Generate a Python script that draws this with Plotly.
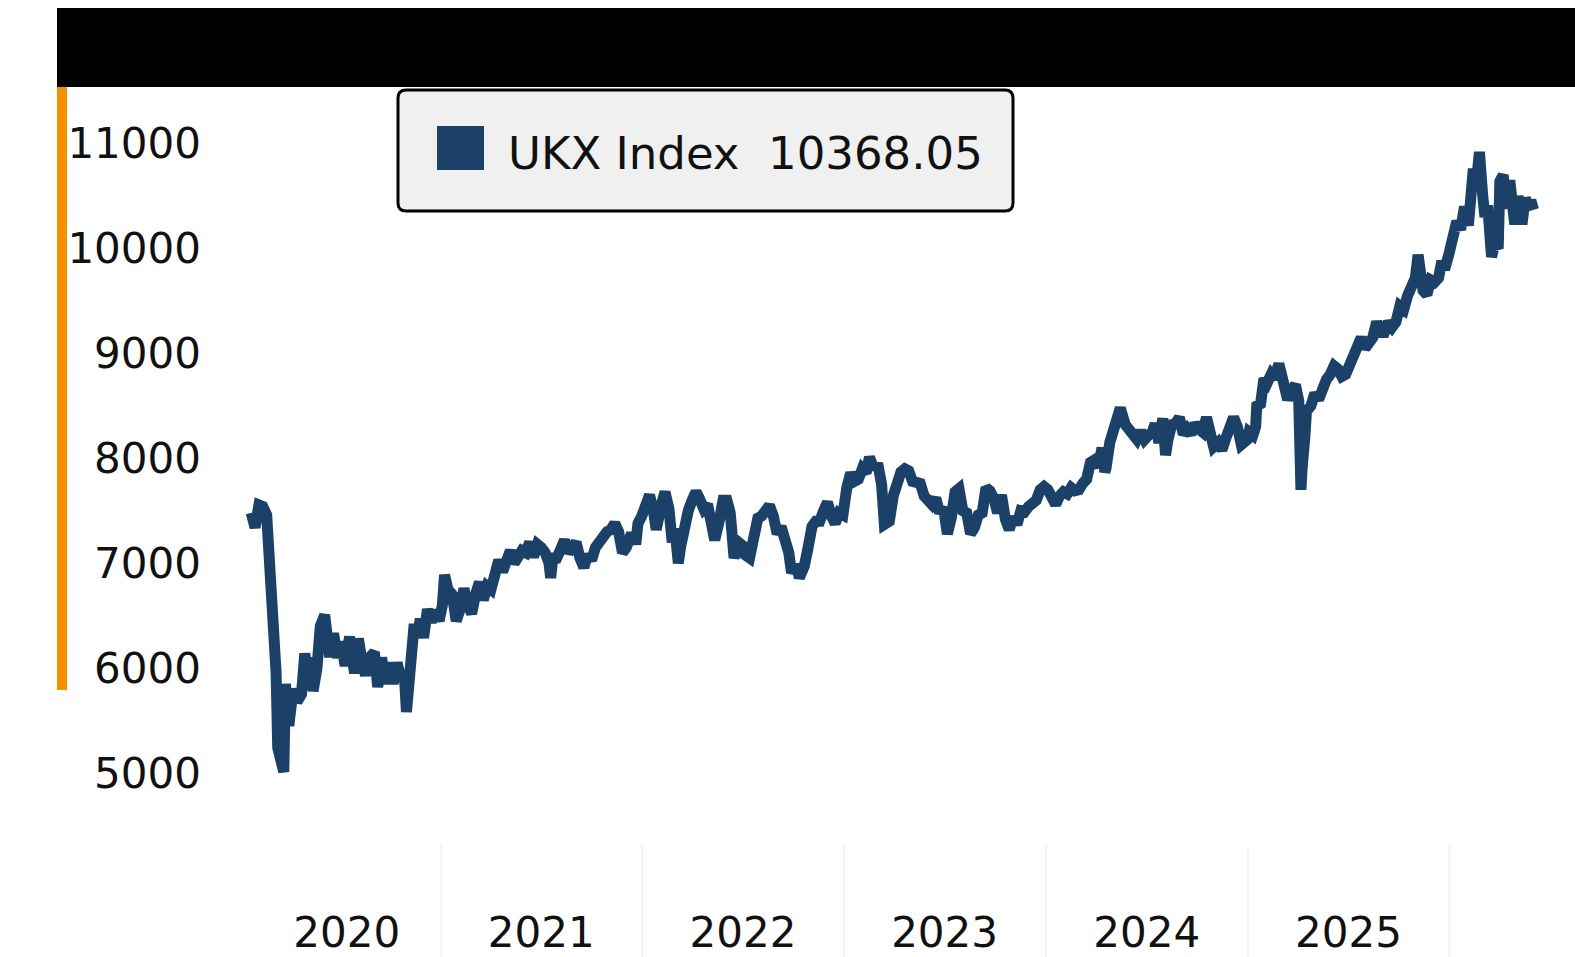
import pandas as pd
import plotly.graph_objects as go

# ---------------- data ----------------
dates_2020 = ["2020-01-24","2020-01-31","2020-02-07","2020-02-14","2020-02-21","2020-02-28","2020-03-05","2020-03-09",
              "2020-03-12","2020-03-16","2020-03-23","2020-03-26","2020-04-01","2020-04-09","2020-04-16","2020-04-24",
              "2020-04-30","2020-05-05","2020-05-11","2020-05-15","2020-05-22","2020-05-28","2020-06-05","2020-06-14",
              "2020-06-21","2020-06-28","2020-07-05","2020-07-12","2020-07-20","2020-07-29","2020-08-05","2020-08-12",
              "2020-08-18","2020-08-25","2020-09-03","2020-09-09","2020-09-16","2020-09-23","2020-09-30","2020-10-07",
              "2020-10-14","2020-10-21","2020-10-27","2020-10-31","2020-11-05","2020-11-09","2020-11-14","2020-11-20",
              "2020-11-25","2020-12-01","2020-12-08","2020-12-15","2020-12-22","2020-12-29"]
close_2020 = [7480,7340,7555,7540,7460,6850,6450,5960,
              5240,5150,5010,5850,5450,5800,5680,5750,
              6140,5900,6100,5780,6000,6400,6506,6106,
              6330,6100,6250,6020,6300,5950,6280,6050,
              5930,6100,6150,5820,6100,5850,6050,5850,
              6050,5900,5950,5582,5900,6300,6420,6300,
              6470,6290,6560,6440,6550,6450]

dates_2021 = ["2021-01-04","2021-01-08","2021-01-14","2021-01-22","2021-01-29","2021-02-05","2021-02-12","2021-02-19",
              "2021-02-26","2021-03-05","2021-03-12","2021-03-19","2021-03-26","2021-04-02","2021-04-09","2021-04-16",
              "2021-04-23","2021-04-30","2021-05-07","2021-05-14","2021-05-21","2021-05-28","2021-06-04","2021-06-11",
              "2021-06-18","2021-06-25","2021-07-02","2021-07-09","2021-07-16","2021-07-19","2021-07-23","2021-07-30",
              "2021-08-06","2021-08-13","2021-08-20","2021-08-27","2021-09-03","2021-09-10","2021-09-17","2021-09-24",
              "2021-10-01","2021-10-08","2021-10-15","2021-10-22","2021-10-29","2021-11-05","2021-11-12","2021-11-19",
              "2021-11-26","2021-12-03","2021-12-10","2021-12-17","2021-12-20","2021-12-24","2021-12-31"]
close_2021 = [6600,6888,6750,6700,6450,6560,6760,6600,
              6520,6700,6820,6650,6780,6750,6950,7030,
              6920,7000,7120,7000,7050,7120,7100,7200,
              7060,7180,7150,7100,7000,6860,7050,7050,
              7130,7220,7100,7180,7200,7050,6960,7080,
              7030,7150,7220,7250,7300,7320,7380,7300,
              7100,7150,7250,7250,7180,7380,7450]

dates_2022 = ["2022-01-07","2022-01-14","2022-01-21","2022-01-26","2022-02-04","2022-02-11","2022-02-18","2022-02-24",
              "2022-03-01","2022-03-07","2022-03-11","2022-03-18","2022-03-25","2022-04-01","2022-04-08","2022-04-14",
              "2022-04-22","2022-04-29","2022-05-06","2022-05-12","2022-05-20","2022-05-27","2022-06-03","2022-06-09",
              "2022-06-16","2022-06-24","2022-07-01","2022-07-06","2022-07-14","2022-07-22","2022-07-29","2022-08-05",
              "2022-08-12","2022-08-19","2022-08-26","2022-09-02","2022-09-09","2022-09-16","2022-09-23","2022-09-28",
              "2022-10-07","2022-10-12","2022-10-21","2022-10-28","2022-11-04","2022-11-11","2022-11-18","2022-11-25",
              "2022-12-02","2022-12-09","2022-12-16","2022-12-23","2022-12-30"]
close_2022 = [7550,7650,7500,7320,7550,7680,7520,7200,
              7330,7000,7150,7400,7500,7600,7680,7620,
              7520,7560,7380,7220,7400,7600,7600,7480,
              7050,7200,7170,7080,7050,7280,7430,7450,
              7500,7550,7450,7280,7350,7240,7100,6910,
              6990,6860,6970,7150,7350,7400,7400,7500,
              7580,7450,7380,7480,7460]

dates_2023 = ["2023-01-06","2023-01-13","2023-01-20","2023-01-27","2023-02-03","2023-02-10","2023-02-16","2023-02-24",
              "2023-03-03","2023-03-10","2023-03-15","2023-03-17","2023-03-24","2023-03-31","2023-04-06","2023-04-14",
              "2023-04-21","2023-04-28","2023-05-05","2023-05-12","2023-05-19","2023-05-26","2023-06-02","2023-06-09",
              "2023-06-16","2023-06-23","2023-06-30","2023-07-07","2023-07-14","2023-07-21","2023-07-28","2023-08-04",
              "2023-08-11","2023-08-18","2023-08-25","2023-09-01","2023-09-08","2023-09-15","2023-09-22","2023-09-29",
              "2023-10-06","2023-10-13","2023-10-20","2023-10-27","2023-11-03","2023-11-10","2023-11-17","2023-11-24",
              "2023-12-01","2023-12-08","2023-12-15","2023-12-22","2023-12-29"]
close_2023 = [7720,7860,7780,7800,7900,7860,8010,7900,
              7950,7750,7370,7380,7400,7640,7750,7870,
              7900,7880,7780,7760,7760,7640,7600,7560,
              7620,7480,7530,7280,7430,7680,7710,7500,
              7480,7280,7340,7460,7480,7720,7690,7620,
              7480,7650,7420,7320,7440,7370,7500,7490,
              7540,7560,7600,7700,7730]

dates_2024 = ["2024-01-05","2024-01-12","2024-01-19","2024-01-26","2024-02-02","2024-02-09","2024-02-16","2024-02-23",
              "2024-03-01","2024-03-08","2024-03-15","2024-03-22","2024-03-28","2024-04-05","2024-04-12","2024-04-17",
              "2024-04-19","2024-04-26","2024-05-03","2024-05-10","2024-05-15","2024-05-24","2024-05-31","2024-06-07",
              "2024-06-14","2024-06-21","2024-06-28","2024-07-05","2024-07-12","2024-07-17","2024-07-24","2024-07-31",
              "2024-08-05","2024-08-09","2024-08-16","2024-08-23","2024-08-30","2024-09-06","2024-09-13","2024-09-20",
              "2024-09-27","2024-10-04","2024-10-11","2024-10-18","2024-10-24","2024-10-31","2024-11-08","2024-11-15",
              "2024-11-22","2024-11-29","2024-12-06","2024-12-13","2024-12-20","2024-12-31"]
close_2024 = [7700,7620,7560,7640,7680,7660,7720,7690,
              7700,7760,7800,7960,7980,7920,8100,7870,
              7900,8150,8280,8430,8480,8320,8280,8250,
              8180,8260,8180,8220,8250,8330,8150,8380,
              8030,8170,8320,8330,8390,8230,8280,8230,
              8330,8280,8250,8390,8250,8110,8150,8080,
              8190,8290,8390,8300,8130,8180]

dates_2025 = ["2025-01-03","2025-01-10","2025-01-15","2025-01-17","2025-01-24","2025-01-30","2025-02-05","2025-02-12",
              "2025-02-18","2025-02-26","2025-03-04","2025-03-10","2025-03-14","2025-03-21","2025-03-28","2025-04-03",
              "2025-04-04","2025-04-07","2025-04-09","2025-04-14","2025-04-17","2025-04-25","2025-05-02","2025-05-09",
              "2025-05-16","2025-05-23","2025-05-30","2025-06-06","2025-06-13","2025-06-20","2025-06-27","2025-07-04",
              "2025-07-11","2025-07-18","2025-07-25","2025-08-01","2025-08-08","2025-08-15","2025-08-22","2025-08-29",
              "2025-09-05","2025-09-12","2025-09-19","2025-09-26","2025-10-03","2025-10-10","2025-10-17","2025-10-24",
              "2025-10-31","2025-11-05","2025-11-10","2025-11-14","2025-11-21","2025-11-28","2025-12-05","2025-12-12",
              "2025-12-18","2025-12-23","2025-12-31"]
close_2025 = [8250,8220,8300,8500,8520,8760,8720,8800,
              8760,8900,8760,8600,8560,8650,8700,8550,
              8050,7700,7900,8200,8450,8500,8620,8560,
              8700,8750,8800,8880,8850,8780,8800,8880,
              9000,9040,9150,9050,9100,9150,9300,9200,
              9200,9300,9250,9300,9450,9420,9550,9650,
              9720,9940,9700,9600,9560,9700,9680,9720,
              9880,9800,9950]

dates_2026 = ["2026-01-07","2026-01-14","2026-01-21","2026-01-28","2026-02-04","2026-02-09","2026-02-13","2026-02-18",
              "2026-02-24","2026-03-02","2026-03-06","2026-03-11","2026-03-18","2026-03-24","2026-03-30","2026-04-02",
              "2026-04-08","2026-04-14","2026-04-20","2026-04-24","2026-04-29","2026-05-05","2026-05-12","2026-05-18",
              "2026-05-25","2026-05-28","2026-06-02"]
close_2026 = [10130,10260,10180,10400,10220,10450,10760,10600,
              10920,10500,10300,10410,9920,10050,10000,10640,
              10700,10380,10650,10460,10230,10500,10230,10480,
              10380,10460,10368.05]

series_name = "UKX Index"
last_value = "10368.05"
y_tick_values = [5000, 6000, 7000, 8000, 9000, 10000, 11000]
y_tick_labels = ["5000", "6000", "7000", "8000", "9000", "10000", "11000"]
year_labels = ["2020", "2021", "2022", "2023", "2024", "2025"]
year_label_dates = ["2020-07-15", "2021-07-02", "2022-07-02", "2023-07-02", "2024-07-02", "2025-07-02"]
year_boundaries = ["2021-01-01", "2022-01-01", "2023-01-01", "2024-01-01", "2025-01-01", "2026-01-01"]

dates = dates_2020 + dates_2021 + dates_2022 + dates_2023 + dates_2024 + dates_2025 + dates_2026
closes = close_2020 + close_2021 + close_2022 + close_2023 + close_2024 + close_2025 + close_2026

# ---------------- layout geometry (page pixels; body margin removed below) ----------------
W, H = 1575, 957
PLOT_L, PLOT_R, PLOT_T, PLOT_B = 210, 1560, 87, 840   # plot area in pixels
L, T, R, B = PLOT_L, PLOT_T, W - PLOT_R, H - PLOT_B
PW, PH = PLOT_R - PLOT_L, PLOT_B - PLOT_T
LINE_COLOR = "#1b4168"
TEXT_COLOR = "#111111"
FONT = "DejaVu Sans"


def fx(p):  # pixel x -> paper
    return (p - PLOT_L) / PW


def fy(p):  # pixel y -> paper
    return (PLOT_B - p) / PH


origin = pd.Timestamp("2020-01-01")
days_per_px = 365.25 / 201.8
x_start = origin + pd.Timedelta(days=(PLOT_L - 238.5) * days_per_px)
x_end = origin + pd.Timedelta(days=(PLOT_R - 238.5) * days_per_px)
px_per_unit = 0.1049
y_low = 5000 + (773 - PLOT_B) / px_per_unit
y_high = 5000 + (773 - PLOT_T) / px_per_unit

fig = go.Figure()
fig.add_trace(go.Scatter(
    x=pd.to_datetime(dates), y=closes, mode="lines",
    line=dict(color=LINE_COLOR, width=11),
    showlegend=False, hoverinfo="skip",
))

shapes = []
shapes.append(dict(type="rect", xref="paper", yref="paper", x0=fx(57), x1=fx(1580), y0=fy(87), y1=fy(8),
                   fillcolor="#000000", line=dict(width=0), layer="above"))
shapes.append(dict(type="rect", xref="paper", yref="paper", x0=fx(57), x1=fx(67), y0=fy(690), y1=fy(87),
                   fillcolor="#f39200", line=dict(width=0), layer="above"))
for d in year_boundaries:
    shapes.append(dict(type="line", xref="x", yref="paper", x0=d, x1=d, y0=fy(845), y1=fy(957),
                       line=dict(color="#f3f3f3", width=2)))


def rounded_rect(x0, y0, x1, y1, r):
    pts = [
        f"M {fx(x0 + r)},{fy(y0)}",
        f"L {fx(x1 - r)},{fy(y0)}",
        f"Q {fx(x1)},{fy(y0)} {fx(x1)},{fy(y0 + r)}",
        f"L {fx(x1)},{fy(y1 - r)}",
        f"Q {fx(x1)},{fy(y1)} {fx(x1 - r)},{fy(y1)}",
        f"L {fx(x0 + r)},{fy(y1)}",
        f"Q {fx(x0)},{fy(y1)} {fx(x0)},{fy(y1 - r)}",
        f"L {fx(x0)},{fy(y0 + r)}",
        f"Q {fx(x0)},{fy(y0)} {fx(x0 + r)},{fy(y0)}",
        "Z",
    ]
    return " ".join(pts)


shapes.append(dict(type="path", xref="paper", yref="paper", path=rounded_rect(398, 90, 1013, 211, 8),
                   fillcolor="#f0f0f0", line=dict(color="#000000", width=3), layer="above"))
shapes.append(dict(type="rect", xref="paper", yref="paper", x0=fx(437), x1=fx(484), y0=fy(170), y1=fy(126),
                   fillcolor=LINE_COLOR, line=dict(width=0), layer="above"))

annotations = [dict(
    xref="paper", yref="paper", x=fx(506), y=fy(153), xanchor="left", yanchor="middle",
    text=f"{series_name}\u00a0\u00a0{last_value}", showarrow=False,
    font=dict(family=FONT, size=45, color=TEXT_COLOR),
)]

fig.update_layout(
    width=W, height=H, autosize=False,
    margin=dict(l=L, r=R, t=T, b=B, pad=0, autoexpand=False),
    paper_bgcolor="#ffffff", plot_bgcolor="#ffffff",
    shapes=shapes, annotations=annotations,
    showlegend=False,
    xaxis=dict(
        type="date", range=[x_start, x_end], automargin=False,
        tickvals=year_label_dates, ticktext=year_labels,
        showgrid=False, zeroline=False, showline=False, ticks="",
        tickfont=dict(family=FONT, size=42, color=TEXT_COLOR),
        ticklabelstandoff=64,
    ),
    yaxis=dict(
        range=[y_low, y_high], automargin=False,
        tickvals=y_tick_values, ticktext=y_tick_labels,
        showgrid=False, zeroline=False, showline=False, ticks="",
        tickfont=dict(family=FONT, size=42, color=TEXT_COLOR),
        ticklabelstandoff=8,
    ),
)

fig.write_html(
    "out.html",
    config={"displayModeBar": False, "staticPlot": True},
    post_script="document.body.style.margin='0';document.body.style.overflow='hidden';",
)
